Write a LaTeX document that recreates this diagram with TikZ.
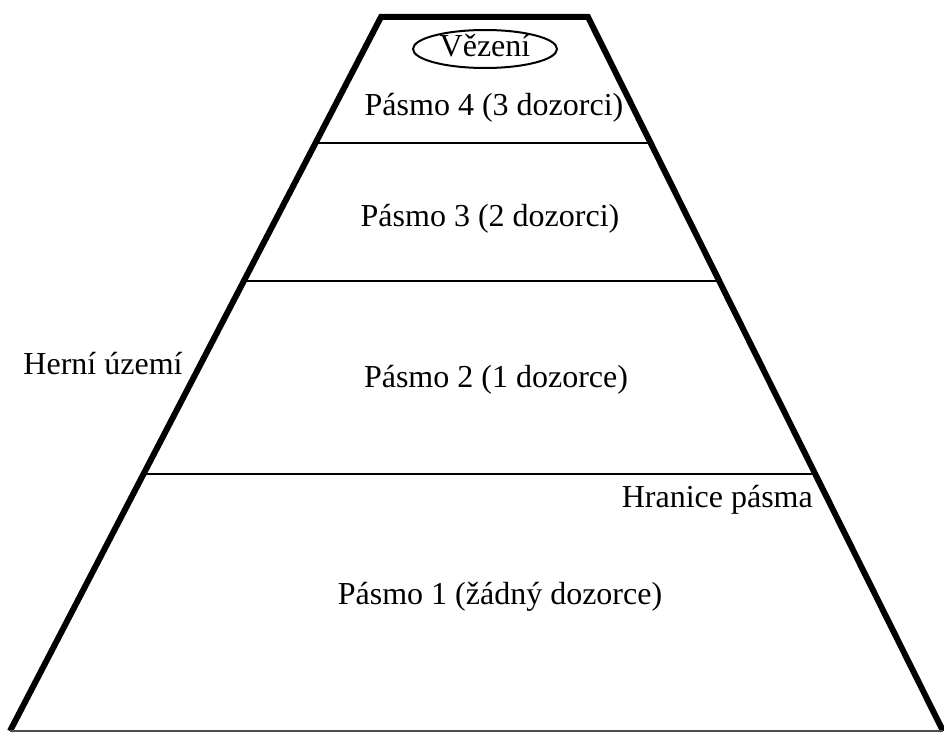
\documentclass[tikz,border=0pt]{standalone}
\usepackage{fontspec}
\setmainfont{Liberation Serif}
\usetikzlibrary{shapes.geometric}

\begin{document}
\begin{tikzpicture}[x=1pt,y=-1pt,
  label text/.style={font=\fontsize{32}{36}\selectfont, inner sep=0pt},
  wall/.style={line width=6pt, line join=miter},
  border/.style={line width=2.5pt}]
\useasboundingbox (0,0) rectangle (944,733);
\coordinate (tl) at (381,17);
\coordinate (tr) at (588,17);
\coordinate (bl) at (10,731);
\coordinate (br) at (943,731);
\coordinate (al) at (315.5,143);
\coordinate (ar) at (650.5,143);
\coordinate (bl2) at (243.8,281);
\coordinate (br2) at (719.3,281);
\coordinate (cl) at (143.5,474);
\coordinate (cr) at (815.2,474);
\draw [border] (al) -- (ar);
\draw [border] (bl2) -- (br2);
\draw [border] (cl) -- (cr);
\draw [wall] (bl) -- (tl) -- (tr) -- (br);
\draw [line width=1.5pt, black!70] (bl) -- (br);
\node (jail) [draw, ellipse, line width=2pt, inner sep=0pt, minimum width=144pt, minimum height=38pt] at (485,49) {};
\node (jailtext) [label text, anchor=base] at (485,57) {Vězení};
\node (z4) [label text, anchor=base] at (494,115) {Pásmo 4 (3 dozorci)};
\node (z3) [label text, anchor=base] at (490,226) {Pásmo 3 (2 dozorci)};
\node (z2) [label text, anchor=base] at (496,387) {Pásmo 2 (1 dozorce)};
\node (z1) [label text, anchor=base] at (500,604) {Pásmo 1 (žádný dozorce)};
\node (area) [label text, anchor=base] at (103,374) {Herní území};
\node (edge) [label text, anchor=base east] at (813,507) {Hranice pásma};
\end{tikzpicture}
\end{document}
